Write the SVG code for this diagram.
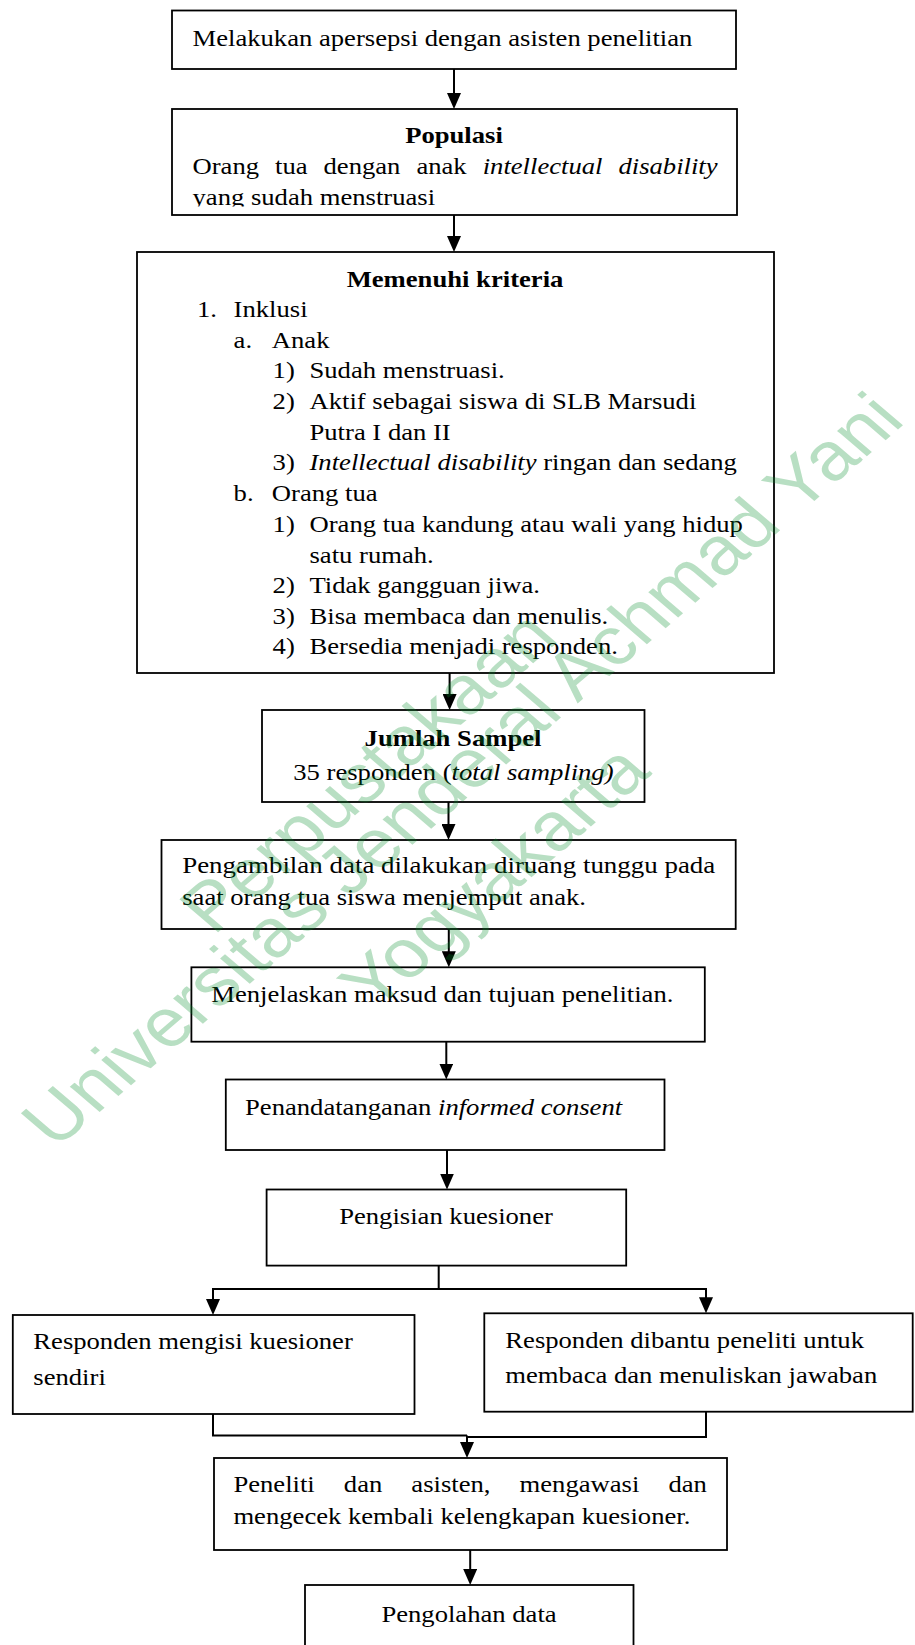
<svg xmlns="http://www.w3.org/2000/svg" width="915" height="1645" viewBox="0 0 915 1645">
<style>
.box{fill:#fff;stroke:#000;stroke-width:1.8}
.t{font-family:"Liberation Serif","Times New Roman",serif;font-size:24px;fill:#000}
.b{font-weight:bold}
.i{font-style:italic}
.c{text-anchor:middle}
.ln{fill:none;stroke:#000;stroke-width:2}
.wm{font-family:"Liberation Sans",Arial,sans-serif;font-size:68px;fill:#008c28;fill-opacity:0.28;text-anchor:middle}
</style>
<defs>
<marker id="ah" markerUnits="userSpaceOnUse" markerWidth="16" markerHeight="14" viewBox="0 0 16 14" refX="12" refY="7" orient="auto"><path d="M0,0 L16,7 L0,14 Z" fill="#000"/></marker>
<clipPath id="clip2"><rect x="172" y="109" width="566" height="97.5"/></clipPath>
</defs>
<rect x="0" y="0" width="915" height="1645" fill="#fff"/>

<g id="n1">
<rect class="box" x="172" y="10.5" width="564" height="58.5"/>
<text class="t" transform="translate(192.5 45.5) scale(1.11 1)">Melakukan apersepsi dengan asisten penelitian</text>
</g>

<g id="n2">
<rect class="box" x="172" y="109" width="565" height="106"/>
<text class="t b c" transform="translate(454 143) scale(1.11 1)">Populasi</text>
<text class="t" transform="translate(192.5 174) scale(1.11 1)" word-spacing="8.4">Orang tua dengan anak <tspan class="i">intellectual disability</tspan></text>
<g clip-path="url(#clip2)"><text class="t" transform="translate(192.5 204.5) scale(1.11 1)">yang sudah menstruasi</text></g>
</g>

<g id="n3">
<rect class="box" x="137" y="252" width="637" height="421"/>
<text class="t b c" transform="translate(455 286.5) scale(1.11 1)">Memenuhi kriteria</text>
<text class="t" transform="translate(197 317) scale(1.11 1)">1.</text>
<text class="t" transform="translate(233.6 317) scale(1.11 1)">Inklusi</text>
<text class="t" transform="translate(233.6 347.7) scale(1.11 1)">a.</text>
<text class="t" transform="translate(271.8 347.7) scale(1.11 1)">Anak</text>
<text class="t" transform="translate(272.6 378) scale(1.11 1)">1)</text>
<text class="t" transform="translate(309.5 378) scale(1.11 1)">Sudah menstruasi.</text>
<text class="t" transform="translate(272.6 409) scale(1.11 1)">2)</text>
<text class="t" transform="translate(309.5 409) scale(1.11 1)">Aktif sebagai siswa di SLB Marsudi</text>
<text class="t" transform="translate(309.5 439.5) scale(1.11 1)">Putra I dan II</text>
<text class="t" transform="translate(272.6 470) scale(1.11 1)">3)</text>
<text class="t" transform="translate(309.5 470) scale(1.11 1)"><tspan class="i">Intellectual disability</tspan> ringan dan sedang</text>
<text class="t" transform="translate(233.6 500.7) scale(1.11 1)">b.</text>
<text class="t" transform="translate(271.8 500.7) scale(1.11 1)">Orang tua</text>
<text class="t" transform="translate(272.6 531.5) scale(1.11 1)">1)</text>
<text class="t" transform="translate(309.5 531.5) scale(1.11 1)">Orang tua kandung atau wali yang hidup</text>
<text class="t" transform="translate(309.5 562.5) scale(1.11 1)">satu rumah.</text>
<text class="t" transform="translate(272.6 593) scale(1.11 1)">2)</text>
<text class="t" transform="translate(309.5 593) scale(1.11 1)">Tidak gangguan jiwa.</text>
<text class="t" transform="translate(272.6 623.5) scale(1.11 1)">3)</text>
<text class="t" transform="translate(309.5 623.5) scale(1.11 1)">Bisa membaca dan menulis.</text>
<text class="t" transform="translate(272.6 654) scale(1.11 1)">4)</text>
<text class="t" transform="translate(309.5 654) scale(1.11 1)">Bersedia menjadi responden.</text>
</g>

<g id="n4">
<rect class="box" x="262" y="710" width="382.5" height="92"/>
<text class="t b c" transform="translate(453 746) scale(1.11 1)">Jumlah Sampel</text>
<text class="t c" transform="translate(453.4 780) scale(1.11 1)">35 responden (<tspan class="i">total sampling)</tspan></text>
</g>

<g id="n5">
<rect class="box" x="161.5" y="840" width="574.2" height="89"/>
<text class="t" transform="translate(182.2 873.3) scale(1.122 1)">Pengambilan data dilakukan diruang tunggu pada</text>
<text class="t" transform="translate(182.2 905) scale(1.11 1)">saat orang tua siswa menjemput anak.</text>
</g>

<g id="n6">
<rect class="box" x="191.4" y="967.3" width="513.4" height="74.4"/>
<text class="t" transform="translate(211.2 1002.3) scale(1.11 1)">Menjelaskan maksud dan tujuan penelitian.</text>
</g>

<g id="n7">
<rect class="box" x="225.8" y="1079.5" width="438.7" height="70.5"/>
<text class="t" transform="translate(245 1115) scale(1.11 1)">Penandatanganan <tspan class="i">informed consent</tspan></text>
</g>

<g id="n8">
<rect class="box" x="266.6" y="1189.5" width="359.6" height="76.1"/>
<text class="t c" transform="translate(446 1224.3) scale(1.11 1)">Pengisian kuesioner</text>
</g>

<g id="n9">
<rect class="box" x="12.8" y="1315" width="401.7" height="99"/>
<text class="t" transform="translate(33.3 1349.3) scale(1.11 1)">Responden mengisi kuesioner</text>
<text class="t" transform="translate(33.3 1385) scale(1.11 1)">sendiri</text>
</g>

<g id="n10">
<rect class="box" x="484.3" y="1313.3" width="428.4" height="98.4"/>
<text class="t" transform="translate(505.3 1348.3) scale(1.11 1)">Responden dibantu peneliti untuk</text>
<text class="t" transform="translate(505.3 1383.3) scale(1.11 1)">membaca dan menuliskan jawaban</text>
</g>

<g id="n11">
<rect class="box" x="214" y="1458" width="513" height="92"/>
<text class="t" transform="translate(233.4 1491.7) scale(1.11 1)" word-spacing="20.2">Peneliti dan asisten, mengawasi dan</text>
<text class="t" transform="translate(233.4 1524) scale(1.11 1)">mengecek kembali kelengkapan kuesioner.</text>
</g>

<g id="n12">
<rect class="box" x="305" y="1585" width="328.5" height="80"/>
<text class="t c" transform="translate(469 1621.7) scale(1.11 1)">Pengolahan data</text>
</g>

<g id="connectors">
<path class="ln" d="M454,69 V105" marker-end="url(#ah)"/>
<path class="ln" d="M454,215 V248" marker-end="url(#ah)"/>
<path class="ln" d="M449.6,673 V706" marker-end="url(#ah)"/>
<path class="ln" d="M448.5,802 V836" marker-end="url(#ah)"/>
<path class="ln" d="M448.8,929 V963.3" marker-end="url(#ah)"/>
<path class="ln" d="M446.3,1041.7 V1075.5" marker-end="url(#ah)"/>
<path class="ln" d="M447,1150 V1185.5" marker-end="url(#ah)"/>
<path class="ln" d="M438.7,1265.6 V1289 M212,1289 H707"/>
<path class="ln" d="M213,1289 V1311" marker-end="url(#ah)"/>
<path class="ln" d="M706,1289 V1309.3" marker-end="url(#ah)"/>
<path class="ln" d="M213,1414 V1435.5 H467"/>
<path class="ln" d="M706,1411.7 V1437 H467"/>
<path class="ln" d="M467,1435.5 V1454" marker-end="url(#ah)"/>
<path class="ln" d="M470.2,1550 V1581" marker-end="url(#ah)"/>
</g>

<g id="watermark">
<text class="wm" transform="translate(387 788) scale(1.17 1) rotate(-45)">Perpustakaan</text>
<text class="wm" transform="translate(481 786) scale(1.17 1) rotate(-45)">Universitas Jenderal Achmad Yani</text>
<text class="wm" transform="translate(513 893) scale(1.17 1) rotate(-45)">Yogyakarta</text>
</g>
</svg>
